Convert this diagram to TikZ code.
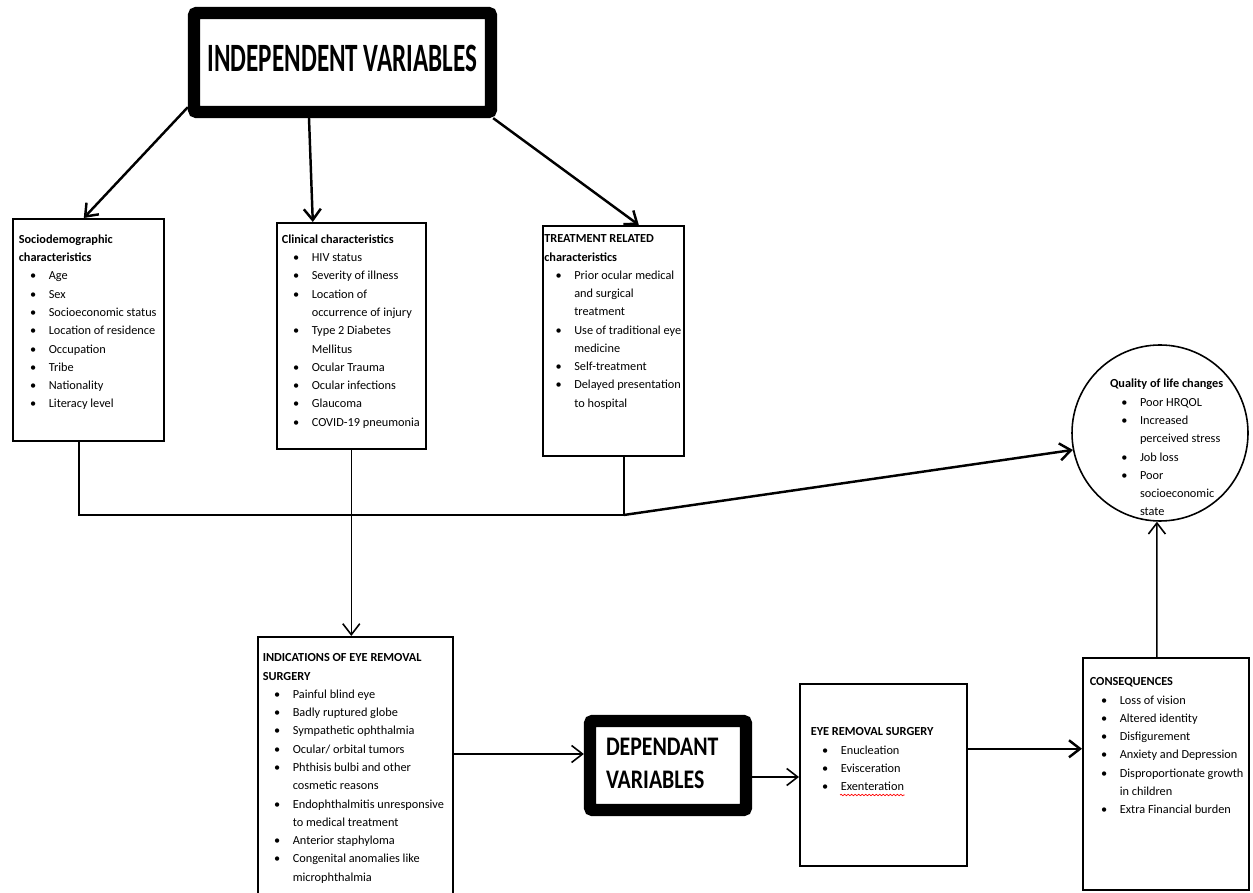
\documentclass[tikz,border=0pt]{standalone}
\usepackage{fontspec}
\setmainfont{Carlito}
\usepackage{graphicx}
\usepackage{enumitem}
\usetikzlibrary{arrows.meta,decorations.pathmorphing}

\setlist[itemize]{label=\textbullet,leftmargin=0.6cm,labelsep=0.25cm,nosep}
\newcommand{\listfont}{\fontsize{7}{10.4}\selectfont}
% height, width, left gap, top gap, text
\newcommand{\listbox}[5]{\hspace*{#3}\parbox[c][#1][t]{#2}{\raggedright\listfont\vspace*{#4}#5}}

\begin{document}
\begin{tikzpicture}[
    >={Straight Barb[length=2.2mm,width=3.4mm]},
    listnode/.style={draw,line width=0.9pt,inner sep=0pt,anchor=north west},
    varnode/.style={draw,line width=7pt,rounded corners=1.5pt,inner sep=0pt},
    link/.style={line width=0.9pt},
    heavylink/.style={line width=1.4pt}]
  \useasboundingbox (0,0) rectangle (25.06,17.84);
  \clip (0,0) rectangle (25.06,17.84);

  \node (indep) at (6.85,16.59) [varnode,minimum width=5.94cm,minimum height=1.98cm,
    font=\fontsize{14.3}{17}\selectfont\bfseries]
    {\raisebox{0.15cm}{\scalebox{1}[1.6]{INDEPENDENT VARIABLES}}};

  \node (socio) at (0.24,13.48) [listnode] {\listbox{4.44cm}{2.90cm}{0.12cm}{0.32cm}{%
    \textbf{Sociodemographic\\characteristics}
    \begin{itemize}
      \item Age
      \item Sex
      \item Socioeconomic status
      \item Location of residence
      \item Occupation
      \item Tribe
      \item Nationality
      \item Literacy level
    \end{itemize}}};

  \node (clinical) at (5.52,13.40) [listnode] {\listbox{4.52cm}{2.88cm}{0.10cm}{0.24cm}{%
    \textbf{Clinical characteristics}
    \begin{itemize}
      \item HIV status
      \item Severity of illness
      \item Location of\\occurrence of injury
      \item Type 2 Diabetes\\Mellitus
      \item Ocular Trauma
      \item Ocular infections
      \item Glaucoma
      \item COVID-19 pneumonia
    \end{itemize}}};

  \node (treat) at (10.84,13.34) [listnode] {\listbox{4.60cm}{2.79cm}{0.03cm}{0.18cm}{%
    \textbf{TREATMENT RELATED\\characteristics}
    \begin{itemize}
      \item Prior ocular medical\\and surgical\\treatment
      \item Use of traditional eye\\medicine
      \item Self-treatment
      \item Delayed presentation\\to hospital
    \end{itemize}}};

  \node (qol) at (23.20,9.18) [draw,circle,line width=0.9pt,minimum size=3.52cm,inner sep=0pt]
    {\hspace*{0.4cm}\smash{\raisebox{-0.38cm}{\parbox[c]{2.4cm}{\raggedright\listfont
    \textbf{Quality of life changes}
    \begin{itemize}
      \item Poor HRQOL
      \item Increased\\perceived stress
      \item Job loss
      \item Poor\\socioeconomic\\state
    \end{itemize}}}}};

  \node (indic) at (5.14,5.12) [listnode] {\listbox{6.00cm}{3.80cm}{0.10cm}{0.34cm}{%
    \textbf{INDICATIONS OF EYE REMOVAL\\SURGERY}
    \begin{itemize}
      \item Painful blind eye
      \item Badly ruptured globe
      \item Sympathetic ophthalmia
      \item Ocular/ orbital tumors
      \item Phthisis bulbi and other\\cosmetic reasons
      \item Endophthalmitis unresponsive\\to medical treatment
      \item Anterior staphyloma
      \item Congenital anomalies like\\microphthalmia
    \end{itemize}}};

  \node (dep) at (13.36,2.53) [varnode,minimum width=3.12cm,minimum height=1.78cm,
    text width=2.48cm,align=left,font=\fontsize{12.4}{15.2}\selectfont\bfseries]
    {\raisebox{0.18cm}{\scalebox{1}[1.23]{\begin{tabular}{@{}l@{}}DEPENDANT\\VARIABLES\end{tabular}}}};

  \node (eye) at (15.98,4.18) [listnode] {\listbox{3.64cm}{3.12cm}{0.22cm}{0.88cm}{%
    \textbf{EYE REMOVAL SURGERY}
    \begin{itemize}
      \item Enucleation
      \item Evisceration
      \item Exenteration
    \end{itemize}}};
  % spell-check squiggle
  \draw[red,line width=0.4pt,decorate,decoration={snake,amplitude=0.4pt,segment length=2pt}]
    ([shift={(0.82,-2.24)}]eye.north west) -- ++(1.29,0);

  \node (conseq) at (21.64,4.70) [listnode] {\listbox{4.64cm}{3.18cm}{0.14cm}{0.40cm}{%
    \textbf{CONSEQUENCES}
    \begin{itemize}
      \item Loss of vision
      \item Altered identity
      \item Disfigurement
      \item Anxiety and Depression
      \item Disproportionate growth\\in children
      \item Extra Financial burden
    \end{itemize}}};

  % independent variables fan out
  \draw[heavylink,->] ([yshift=0.22cm]indep.south west) -- ([xshift=-0.09cm]socio.north);
  \draw[heavylink,->] ([xshift=-0.67cm]indep.south) -- ([xshift=-0.77cm]clinical.north);
  \draw[heavylink,->] ([xshift=-0.08cm]indep.south east) -- ([xshift=0.51cm]treat.north);

  % collecting line
  \coordinate (lowline) at (0,7.54);
  \coordinate (sjoin) at ([xshift=-0.19cm]socio.south |- lowline);
  \coordinate (tjoin) at ([xshift=0.21cm]treat.south |- lowline);
  \draw[link] ([xshift=-0.19cm]socio.south) -- (sjoin) -- (tjoin) -- ([xshift=0.21cm]treat.south);
  \draw[heavylink,->] (tjoin) -- (qol.191);
  \draw[link,->] (clinical.south) -- (clinical.south |- indic.north);

  % lower chain
  \draw[link,->] ([yshift=0.23cm]dep.west -| indic.east) -- ([yshift=0.23cm]dep.west);
  \draw[link,->] ([yshift=-0.23cm]dep.east) -- ([yshift=-0.23cm]dep.east -| eye.west);
  \draw[heavylink,->] ([yshift=0.52cm]eye.east) -- ([yshift=0.52cm]eye.east -| conseq.west);
  \draw[link,->] ([xshift=-0.18cm]conseq.north) -- (qol.268);
\end{tikzpicture}
\end{document}
